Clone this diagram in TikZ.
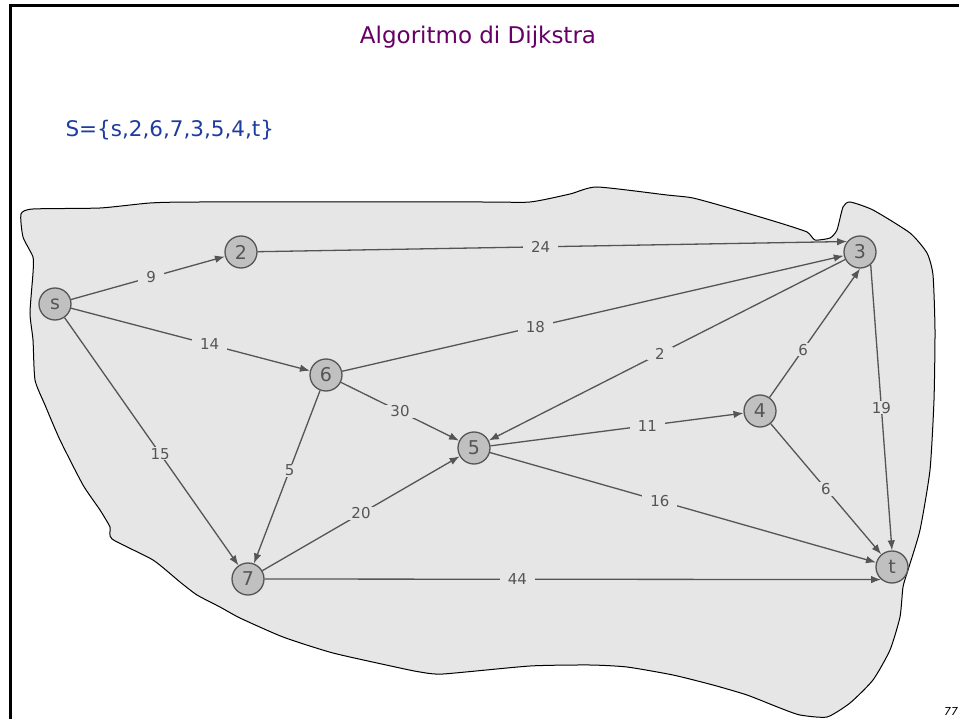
\documentclass[tikz,border=0pt]{standalone}
\usepackage{fontspec}
\setmainfont{DejaVu Sans}
\usetikzlibrary{arrows.meta}
\definecolor{blobgray}{HTML}{E6E6E6}
\definecolor{nodegray}{HTML}{C0C0C0}
\definecolor{inkgray}{HTML}{555555}
\definecolor{titlepurple}{HTML}{660066}
\definecolor{setblue}{HTML}{1E3C9E}
\tikzset{
    vertex/.style={circle,draw=inkgray,fill=nodegray,line width=1.3pt,
        minimum size=32pt,inner sep=0pt,text=inkgray,
        font=\fontsize{19}{19}\selectfont},
    edge/.style={draw=inkgray,line width=1.3pt,-{Latex[length=10pt,width=7.5pt]}},
    wt/.style={fill=blobgray,text=inkgray,inner xsep=8pt,inner ysep=1pt,
        font=\fontsize{15}{15}\selectfont}
}
\begin{document}
\begin{tikzpicture}[x=1pt,y=-1pt]
        \useasboundingbox (0,0) rectangle (959,719);
        \clip (0,0) rectangle (959,719);
        \draw[line width=3pt] (10,6) rectangle (975,735);
        \node[font=\fontsize{23}{23}\selectfont,text=titlepurple] (title) at (478,37) {Algoritmo di Dijkstra};
        \node[font=\fontsize{21.5}{21.5}\selectfont,text=setblue,anchor=west] (set) at (62,130) {S=\{s,2,6,7,3,5,4,t\}};
        \node[font=\fontsize{11}{11}\itshape] (page) at (951,711) {77};
        % region
        \draw[fill=blobgray,line width=1pt] plot[smooth cycle,tension=0.35] coordinates {
            (21,214) (33,209) (100,208) (150,203) (200,202) (480,202) (530,202)
            (570,194) (597,187) (667,195) (693,198) (733,209) (780,223) (807,232)
            (815,240) (830,238) (837,230) (843,207) (850,202) (873,210) (910,233)
            (927,253) (933,275) (935,330) (934,400) (930,470) (920,530) (908,570)
            (903,587) (900,617) (890,650) (873,680) (850,703) (827,717) (800,715)
            (780,708) (747,695) (713,685) (673,675) (627,667) (590,665) (530,666)
            (443,674) (420,672) (400,668) (333,653) (283,637) (240,618) (220,607)
            (197,595) (180,582) (153,560) (112,539) (110,527) (100,510) (83,485)
            (60,440) (45,405) (35,380) (33,340) (30,313) (33,273) (33,257) (23,237)
        };
        % vertices
        \node[vertex] (s) at (55,304) {s};
        \node[vertex] (2) at (241,252) {2};
        \node[vertex] (3) at (860,252) {3};
        \node[vertex] (6) at (326,375) {6};
        \node[vertex] (5) at (474,448) {5};
        \node[vertex] (4) at (760,411) {4};
        \node[vertex] (7) at (248,579) {7};
        \node[vertex] (t) at (892,567) {t};
        % edges
        \foreach \a/\b/\w/\p in {s/2/9/0.52, s/6/14/0.58, s/7/15/0.55,
            6/3/18/0.385, 6/5/30/0.5, 6/7/5/0.46, 3/5/2/0.52, 7/5/20/0.5,
            5/4/11/0.62, 5/t/16/0.44, 4/t/6/0.5} {
            \draw[edge] (\a) -- node[wt,pos=\p] {\w} (\b);
        }
        \draw[edge] (2) -- node[wt,pos=0.48] {24} (3.141);
        \draw[edge] (7) -- node[wt,pos=0.41] {44} (t.-131);
        \draw[edge] (4) -- node[wt,pos=0.37] {6} (3.south);
        \draw[edge] (3.-50) -- node[wt,pos=0.5] {19} (t.north);
    \end{tikzpicture}
\end{document}
